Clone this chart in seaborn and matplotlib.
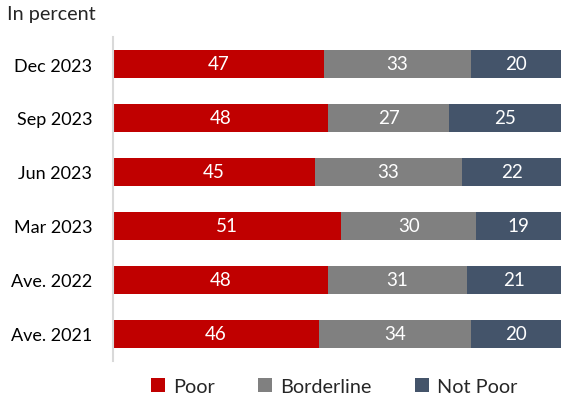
import matplotlib
matplotlib.use("Agg")
import matplotlib.pyplot as plt
import seaborn as sns
import pandas as pd
import numpy as np
from matplotlib.patches import Patch

categories = ["Dec 2023", "Sep 2023", "Jun 2023", "Mar 2023", "Ave. 2022", "Ave. 2021"]
poor = [47, 48, 45, 51, 48, 46]
borderline = [33, 27, 33, 30, 31, 34]
not_poor = [20, 25, 22, 19, 21, 20]
series_names = ["Poor", "Borderline", "Not Poor"]
colors = ["#C00000", "#808080", "#44546A"]

sns.set_theme(style="white")
plt.rcParams["font.family"] = ["Lato", "DejaVu Sans"]

df = pd.DataFrame({"cat": categories, "Poor": poor, "Borderline": borderline, "Not Poor": not_poor})
df["c1"] = df["Poor"]
df["c2"] = df["Poor"] + df["Borderline"]
df["c3"] = df["c2"] + df["Not Poor"]

fig = plt.figure(figsize=(5.81, 4.10), dpi=100)
ax = fig.add_axes([113/581, (410-362)/410, 448/581, 324/410])

for col, color in zip(["c3", "c2", "c1"], colors[::-1]):
    sns.barplot(data=df, y="cat", x=col, orient="h", color=color, width=0.535,
                saturation=1, ax=ax, linewidth=0, order=categories)

for i, row in df.iterrows():
    starts = [0, row["c1"], row["c2"]]
    vals = [row["Poor"], row["Borderline"], row["Not Poor"]]
    for s, v in zip(starts, vals):
        ax.text(s + v / 2, i, f"{v}", ha="center", va="center", color="white", fontsize=13.5)

ax.set_xlim(0, 100)
ax.set_ylim(len(categories) - 0.5, -0.5)
ax.set_xlabel("")
ax.set_ylabel("")
ax.set_xticks([])
ax.tick_params(axis="y", length=0, pad=15, labelsize=13, labelcolor="black")
for sp in ["top", "right", "bottom"]:
    ax.spines[sp].set_visible(False)
ax.spines["left"].set_color("#D9D9D9")
ax.spines["left"].set_linewidth(1.5)

fig.text(0.012, 0.965, "In percent", fontsize=14.3, ha="left", va="center")

handles = [Patch(facecolor=c, edgecolor="none") for c in colors]
fig.legend(handles, series_names, loc="center", bbox_to_anchor=(0.575, 0.055), ncol=3,
           frameon=False, fontsize=14.3, handlelength=0.7, handleheight=0.7,
           handletextpad=0.4, columnspacing=2.2)

fig.savefig("out.png", dpi=100)
